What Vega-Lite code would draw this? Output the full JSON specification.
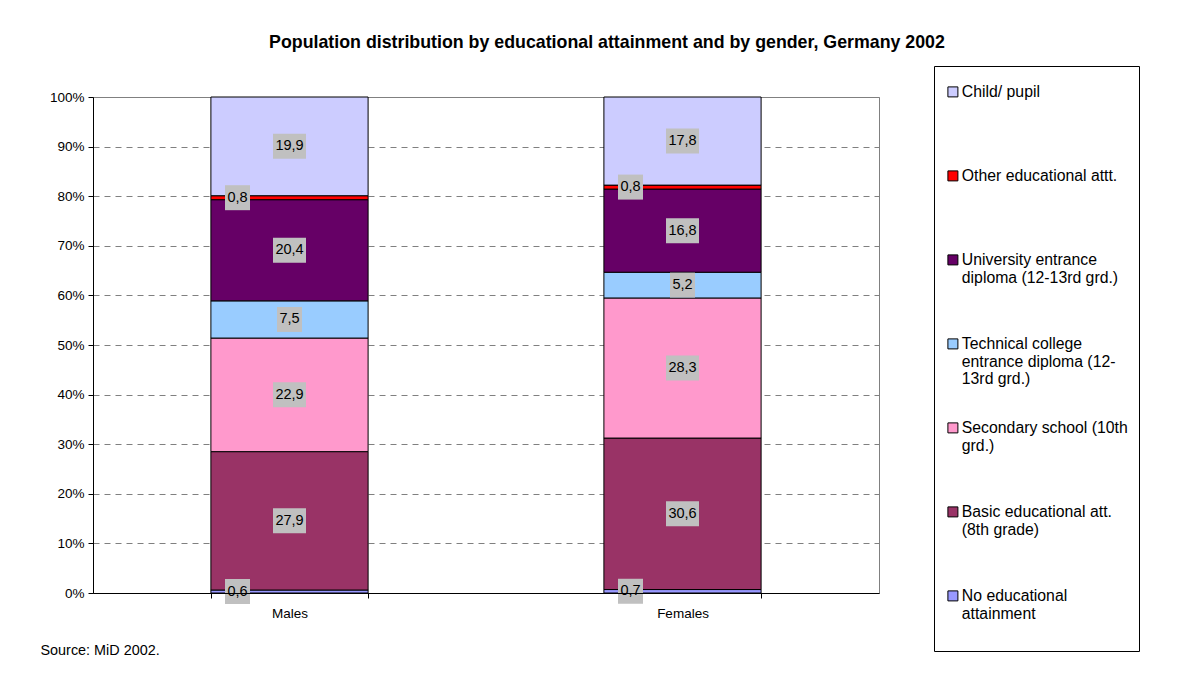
{
  "$schema": "https://vega.github.io/schema/vega-lite/v6.json",
  "width": 786,
  "height": 496,
  "autosize": {"type": "none"},
  "padding": {"left": 93, "top": 97, "right": 323, "bottom": 82},
  "background": "white",
  "title": {
    "text": "Population distribution by educational attainment and by gender, Germany 2002",
    "font": "Liberation Sans",
    "fontSize": 17.8,
    "fontWeight": "bold",
    "color": "black",
    "anchor": "middle",
    "frame": "group",
    "dx": 121,
    "offset": 14
  },
  "data": {
    "values": [
      {"gender": "Males", "category": "No educational attainment", "order": 1, "value": 0.6},
      {"gender": "Males", "category": "Basic educational att. (8th grade)", "order": 2, "value": 27.9},
      {"gender": "Males", "category": "Secondary school (10th grd.)", "order": 3, "value": 22.9},
      {"gender": "Males", "category": "Technical college entrance diploma (12-13rd grd.)", "order": 4, "value": 7.5},
      {"gender": "Males", "category": "University entrance diploma (12-13rd grd.)", "order": 5, "value": 20.4},
      {"gender": "Males", "category": "Other educational attt.", "order": 6, "value": 0.8},
      {"gender": "Males", "category": "Child/ pupil", "order": 7, "value": 19.9},
      {"gender": "Females", "category": "No educational attainment", "order": 1, "value": 0.7},
      {"gender": "Females", "category": "Basic educational att. (8th grade)", "order": 2, "value": 30.6},
      {"gender": "Females", "category": "Secondary school (10th grd.)", "order": 3, "value": 28.3},
      {"gender": "Females", "category": "Technical college entrance diploma (12-13rd grd.)", "order": 4, "value": 5.2},
      {"gender": "Females", "category": "University entrance diploma (12-13rd grd.)", "order": 5, "value": 16.8},
      {"gender": "Females", "category": "Other educational attt.", "order": 6, "value": 0.8},
      {"gender": "Females", "category": "Child/ pupil", "order": 7, "value": 17.8}
    ]
  },
  "transform": [
    {"stack": "value", "groupby": ["gender"], "sort": [{"field": "order", "order": "ascending"}], "offset": "normalize", "as": ["v0", "v1"]},
    {"calculate": "(datum.v0 + datum.v1) / 2", "as": "mid"}
  ],
  "encoding": {
    "x": {
      "field": "gender",
      "type": "nominal",
      "sort": ["Males", "Females"],
      "scale": {"paddingInner": 0.6, "paddingOuter": 0.3},
      "axis": {
        "title": "Source: MiD 2002.",
        "titleX": -53,
        "titleY": 57,
        "titleAlign": "left",
        "titleAnchor": "start",
        "titleBaseline": "middle",
        "titleFont": "Liberation Sans",
        "titleFontSize": 14.4,
        "titleFontWeight": "normal",
        "titleColor": "black",
        "labelAngle": 0,
        "labelFont": "Liberation Sans",
        "labelFontSize": 13.5,
        "labelColor": "black",
        "labelPadding": 8,
        "domainColor": "black",
        "domainWidth": 1,
        "tickColor": "black",
        "tickSize": 5,
        "tickBand": "extent",
        "zindex": 1
      }
    }
  },
  "layer": [
    {
      "mark": {"type": "bar", "stroke": "black", "strokeWidth": 1},
      "encoding": {
        "y": {
          "field": "v0",
          "type": "quantitative",
          "scale": {"domain": [0, 1]},
          "axis": {
            "title": null,
            "values": [0, 0.1, 0.2, 0.3, 0.4, 0.5, 0.6, 0.7, 0.8, 0.9, 1],
            "format": ".0%",
            "labelFont": "Liberation Sans",
            "labelFontSize": 13.5,
            "labelColor": "black",
            "labelPadding": 4,
            "domainColor": "black",
            "tickColor": "black",
            "tickSize": 5,
            "grid": true,
            "gridColor": "#808080",
            "gridDash": [6, 5],
            "gridWidth": 1
          }
        },
        "y2": {"field": "v1"},
        "color": {
          "field": "category",
          "type": "nominal",
          "scale": {
            "domain": ["Child/ pupil", "Other educational attt.", "University entrance diploma (12-13rd grd.)", "Technical college entrance diploma (12-13rd grd.)", "Secondary school (10th grd.)", "Basic educational att. (8th grade)", "No educational attainment"],
            "range": ["#CCCCFF", "#FF0000", "#660066", "#99CCFF", "#FF99CC", "#993366", "#9999FF"]
          },
          "legend": {
            "orient": "none",
            "legendX": 841,
            "legendY": -31,
            "title": " ",
            "titleFontSize": 2,
            "titlePadding": 5,
            "strokeColor": "black",
            "padding": 11,
            "symbolType": "square",
            "symbolSize": 100,
            "symbolStrokeColor": "black",
            "symbolStrokeWidth": 1,
            "symbolOpacity": 1,
            "labelFont": "Liberation Sans",
            "labelFontSize": 15.8,
            "labelColor": "black",
            "labelLimit": 300,
            "labelBaseline": "middle",
            "labelOffset": 1,
            "rowPadding": 31,
            "gridAlign": "all",
            "labelExpr": "datum.label == 'University entrance diploma (12-13rd grd.)' ? ['University entrance', 'diploma (12-13rd grd.)'] : datum.label == 'Technical college entrance diploma (12-13rd grd.)' ? ['Technical college', 'entrance diploma (12-', '13rd grd.)'] : datum.label == 'Secondary school (10th grd.)' ? ['Secondary school (10th', 'grd.)'] : datum.label == 'Basic educational att. (8th grade)' ? ['Basic educational att.', '(8th grade)'] : datum.label == 'No educational attainment' ? ['No educational', 'attainment', ''] : datum.label"
          }
        }
      }
    },
    {
      "transform": [{"filter": "datum.value >= 10"}],
      "mark": {"type": "point", "shape": "M-1,-0.7576H1V0.7576H-1Z", "size": 1089, "filled": true, "color": "#C0C0C0", "opacity": 1},
      "encoding": {"y": {"field": "mid", "type": "quantitative"}}
    },
    {
      "transform": [{"filter": "datum.value >= 1 && datum.value < 10"}],
      "mark": {"type": "point", "shape": "square", "size": 625, "filled": true, "color": "#C0C0C0", "opacity": 1},
      "encoding": {"y": {"field": "mid", "type": "quantitative"}}
    },
    {
      "transform": [{"filter": "datum.value < 1"}],
      "mark": {"type": "point", "shape": "square", "size": 625, "filled": true, "color": "#C0C0C0", "opacity": 1, "xOffset": -52},
      "encoding": {"y": {"field": "mid", "type": "quantitative"}}
    },
    {
      "transform": [{"filter": "datum.value >= 1"}],
      "mark": {"type": "text", "font": "Liberation Sans", "fontSize": 14.5, "color": "black"},
      "encoding": {
        "y": {"field": "mid", "type": "quantitative"},
        "text": {"field": "value", "type": "quantitative", "format": ".1f"}
      }
    },
    {
      "transform": [{"filter": "datum.value < 1"}],
      "mark": {"type": "text", "font": "Liberation Sans", "fontSize": 14.5, "color": "black", "xOffset": -52},
      "encoding": {
        "y": {"field": "mid", "type": "quantitative"},
        "text": {"field": "value", "type": "quantitative", "format": ".1f"}
      }
    }
  ],
  "config": {
    "locale": {"number": {"decimal": ",", "thousands": ".", "grouping": [3], "currency": ["", " €"]}},
    "view": {"stroke": "#808080", "strokeWidth": 1}
  }
}
